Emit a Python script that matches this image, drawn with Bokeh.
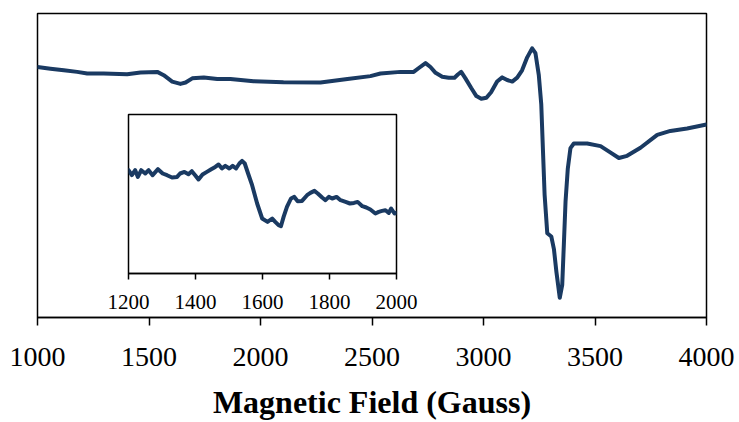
from bokeh.plotting import figure
from bokeh.models import Range1d, FixedTicker
from bokeh.layouts import column
from bokeh.embed import file_html
from bokeh.resources import INLINE

# ---- data: main EPR spectrum (field in Gauss, signal in arbitrary units) ----
main_field = [1000, 1058, 1118, 1178, 1223, 1297, 1402, 1462, 1537, 1566, 1604, 1641,
              1664, 1694, 1746, 1806, 1865, 1969, 2103, 2269, 2390, 2493, 2538, 2628,
              2687, 2710, 2740, 2762, 2785, 2815, 2844, 2870, 2885, 2900, 2919, 2945,
              2968, 2990, 3013, 3034, 3061, 3084, 3106, 3129, 3151, 3173, 3196, 3218,
              3233, 3248, 3259, 3267, 3274, 3286, 3304, 3316, 3327, 3342, 3353, 3360,
              3368, 3378, 3390, 3405, 3465, 3525, 3570, 3607, 3644, 3704, 3779, 3838,
              3913, 3973, 4000]
main_signal = [258.7, 257.0, 255.3, 253.7, 252.0, 252.0, 251.3, 253.0, 253.7, 250.3, 243.7, 241.3,
               242.7, 247.0, 248.0, 246.3, 246.3, 244.0, 243.0, 242.7, 246.3, 249.3, 252.0, 253.7,
               253.7, 257.7, 262.7, 258.7, 252.7, 248.7, 247.7, 247.7, 251.0, 253.7, 247.0, 237.0,
               228.7, 226.0, 227.0, 232.7, 243.7, 248.0, 245.3, 243.7, 247.7, 255.3, 268.7, 278.0,
               273.0, 250.3, 220.3, 170.3, 127.0, 87.0, 83.7, 70.3, 47.0, 20.3, 33.7, 73.7,
               120.3, 153.7, 175.0, 179.7, 179.7, 177.0, 170.3, 164.7, 167.0, 175.3, 188.7, 192.7,
               195.3, 198.0, 199.3]

# ---- data: inset (zoom on 1200-2000 G) ----
inset_field = [1200, 1210, 1220, 1228, 1238, 1250, 1260, 1272, 1288, 1302, 1315, 1330,
               1345, 1354, 1367, 1379, 1389, 1399, 1409, 1421, 1434, 1447, 1459, 1469,
               1479, 1489, 1501, 1511, 1521, 1531, 1539, 1547, 1557, 1569, 1584, 1599,
               1615, 1629, 1638, 1648, 1655, 1663, 1673, 1685, 1695, 1705, 1718, 1733,
               1743, 1755, 1765, 1778, 1788, 1798, 1808, 1821, 1833, 1848, 1861, 1873,
               1884, 1898, 1910, 1922, 1937, 1947, 1957, 1967, 1977, 1984, 1994, 2000]
inset_signal = [103.3, 98.3, 103.3, 96.6, 103.3, 100.0, 103.3, 98.3, 104.3, 100.0, 98.3, 96.0,
                96.6, 100.0, 101.6, 99.3, 102.3, 98.3, 94.0, 99.0, 101.6, 104.3, 106.6, 109.0,
                105.0, 107.6, 105.0, 107.6, 105.0, 110.0, 112.6, 110.0, 100.0, 88.3, 70.0, 55.0,
                51.6, 55.0, 51.6, 48.3, 47.3, 56.6, 66.6, 75.0, 76.6, 72.3, 72.6, 78.3,
                80.6, 82.6, 80.0, 76.0, 73.3, 76.6, 75.0, 76.6, 73.3, 71.6, 70.0, 70.6,
                71.6, 67.3, 66.0, 64.0, 60.0, 61.6, 62.6, 63.3, 60.6, 65.0, 60.0, 60.6]

main_ticks = [1000, 1500, 2000, 2500, 3000, 3500, 4000]
inset_ticks = [1200, 1400, 1600, 1800, 2000]

LINE = "#1a3a62"
SERIF = "Liberation Serif"

# ---- main figure ----
p = figure(width=739, height=422, output_backend="svg", toolbar_location=None,
           x_range=Range1d(1000, 4000), y_range=Range1d(0, 314),
           min_border_left=37, min_border_right=33, min_border_top=13, min_border_bottom=95)
p.line(main_field, main_signal, line_color=LINE, line_width=4, line_join="round", line_cap="round")
p.grid.visible = False
p.yaxis.visible = False
p.outline_line_color = "black"
p.outline_line_width = 1.5
p.background_fill_color = "white"
p.border_fill_color = "white"
ax = p.xaxis[0]
ax.ticker = FixedTicker(ticks=main_ticks)
ax.minor_tick_line_color = None
ax.major_tick_in = 0
ax.major_tick_out = 8
ax.major_tick_line_color = "black"
ax.major_tick_line_width = 1.5
ax.axis_line_color = "black"
ax.axis_line_width = 1.5
ax.major_label_text_font = SERIF
ax.major_label_text_font_size = "28px"
ax.major_label_text_color = "black"
ax.major_label_standoff = 22
ax.axis_label = "Magnetic Field (Gauss)"
ax.axis_label_text_font = SERIF
ax.axis_label_text_font_style = "bold"
ax.axis_label_text_font_size = "32px"
ax.axis_label_text_color = "black"
ax.axis_label_standoff = 15

# ---- inset figure ----
q = figure(frame_width=268, frame_height=159, output_backend="svg", toolbar_location=None,
           x_range=Range1d(1200, 2000), y_range=Range1d(0, 159),
           min_border_left=30, min_border_right=30, min_border_top=5, min_border_bottom=45,
           margin=(-313, 0, 104, 91))
q.line(inset_field, inset_signal, line_color=LINE, line_width=4, line_join="round", line_cap="round")
q.grid.visible = False
q.yaxis.visible = False
q.outline_line_color = "black"
q.outline_line_width = 1.5
q.background_fill_color = "white"
q.border_fill_color = None
qa = q.xaxis[0]
qa.ticker = FixedTicker(ticks=inset_ticks)
qa.minor_tick_line_color = None
qa.major_tick_in = 0
qa.major_tick_out = 6
qa.major_tick_line_color = "black"
qa.major_tick_line_width = 1.5
qa.axis_line_color = "black"
qa.axis_line_width = 1.5
qa.major_label_text_font = SERIF
qa.major_label_text_font_size = "21px"
qa.major_label_text_color = "black"
qa.major_label_standoff = 15

layout = column(p, q)
open("out.html", "w").write(file_html(layout, INLINE))
